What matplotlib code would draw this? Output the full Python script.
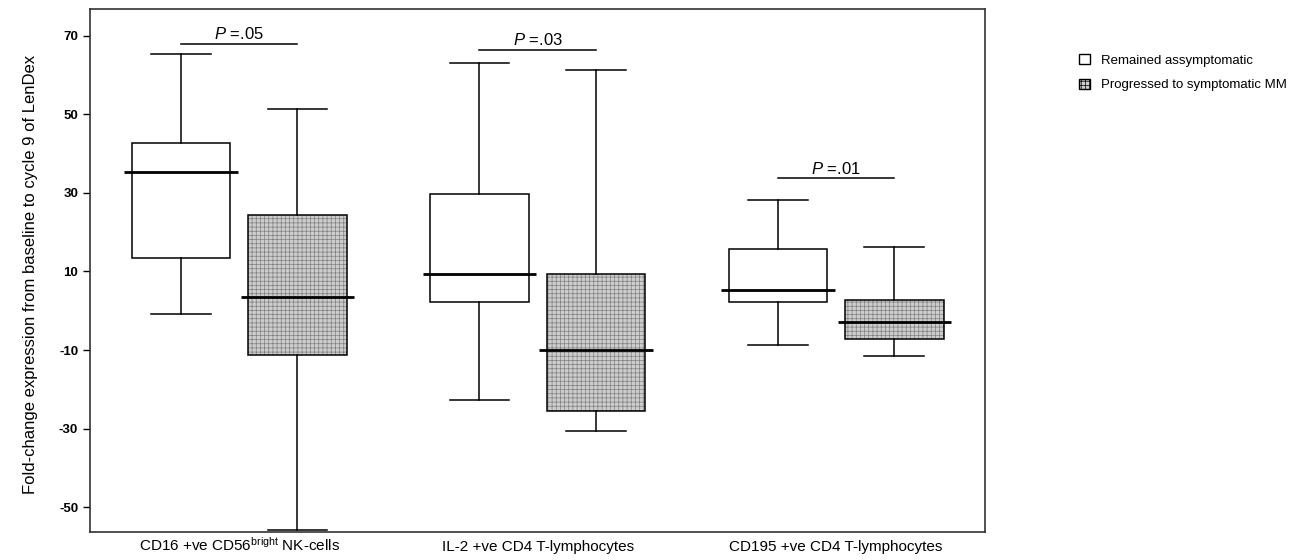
import matplotlib
matplotlib.use("Agg")
import matplotlib.pyplot as plt
from matplotlib.patches import Patch, PathPatch

plt.rcParams['font.family'] = ['Liberation Sans', 'DejaVu Sans']
plt.rcParams['mathtext.fontset'] = 'custom'
plt.rcParams['mathtext.rm'] = 'Liberation Sans'
plt.rcParams['mathtext.it'] = 'Liberation Sans:italic'
plt.rcParams['hatch.linewidth'] = 0.5

# Data
categories = ['CD16 +ve CD56$^{\\mathrm{bright}}$ NK-cells',
              'IL-2 +ve CD4 T-lymphocytes',
              'CD195 +ve CD4 T-lymphocytes']
groups = ['Remained assymptomatic', 'Progressed to symptomatic MM']

# remained
rem_lo = [-0.7, -22.8, -8.8]
rem_q1 = [13.3, 2.3, 2.2]
rem_med = [35.2, 9.3, 5.2]
rem_q3 = [42.7, 29.6, 15.6]
rem_hi = [65.3, 63.1, 28.3]

# progressed
pro_lo = [-55.7, -30.6, -11.6]
pro_q1 = [-11.2, -25.6, -7.3]
pro_med = [3.6, -10.0, -2.9]
pro_q3 = [24.3, 9.3, 2.7]
pro_hi = [51.3, 61.2, 16.2]

p_labels = ['.05', '.03', '.01']
p_heights = [68.0, 66.4, 33.7]

yticks = [70, 50, 30, 10, -10, -30, -50]


def make_stats(lo, q1, med, q3, hi):
    return [dict(whislo=a, q1=b, med=c, q3=d, whishi=e, fliers=[])
            for a, b, c, d, e in zip(lo, q1, med, q3, hi)]


fig = plt.figure(figsize=(12.91, 5.6), dpi=100)
ax = fig.add_axes([0.0697, 0.05, 0.6935, 0.934])

off = 0.195
pos = list(range(len(categories)))
rem_pos = [p - off for p in pos]
pro_pos = [p + off for p in pos]

common = dict(widths=0.33, patch_artist=True, showfliers=False,
              whiskerprops=dict(color='black', lw=1.1),
              capprops=dict(color='black', lw=1.1),
              medianprops=dict(color='black', lw=2.0),
              manage_ticks=False)

b1 = ax.bxp(make_stats(rem_lo, rem_q1, rem_med, rem_q3, rem_hi), positions=rem_pos,
            boxprops=dict(facecolor='white', edgecolor='black', lw=1.1), **common)
b2 = ax.bxp(make_stats(pro_lo, pro_q1, pro_med, pro_q3, pro_hi), positions=pro_pos,
            boxprops=dict(facecolor='#cdcdcd', edgecolor='#808080', lw=0), **common)
# gray hatch inside, black outline on top
for b in b2['boxes']:
    b.set_hatch('++++')
    ax.add_patch(PathPatch(b.get_path(), fill=False, edgecolor='black', lw=1.1, zorder=2.5))

# widen medians and shorten caps like the original
for res, ps in ((b1, rem_pos), (b2, pro_pos)):
    for m, p in zip(res['medians'], ps):
        m.set_xdata([p - 0.19, p + 0.19])
        m.set_zorder(3)
    for i, c in enumerate(res['caps']):
        p = ps[i // 2]
        c.set_xdata([p - 0.1, p + 0.1])

# significance bars
for i, (lab, h) in enumerate(zip(p_labels, p_heights)):
    ax.plot([rem_pos[i], pro_pos[i]], [h, h], color='black', lw=1.1)
    ax.text(pos[i], h + 0.4, '$P$ =' + lab, ha='center', va='bottom', fontsize=12)

ax.set_xlim(-0.5, 2.5)
ax.set_ylim(-56.3, 76.8)
ax.set_xticks(pos)
ax.set_xticklabels(categories, fontsize=11)
for lbl in ax.get_xticklabels():
    lbl.set_verticalalignment('baseline')
ax.tick_params(axis='x', length=0, pad=13.5)
ax.set_yticks(yticks)
ax.set_yticklabels([str(t) for t in yticks], fontsize=9.5, fontweight='bold')
ax.tick_params(axis='y', length=5, width=1, direction='out')
for s in ax.spines.values():
    s.set_linewidth(1.2)
    s.set_color('#333333')

fig.text(0.024, 0.51, 'Fold-change expression from baseline to cycle 9 of LenDex',
         rotation=90, ha='center', va='center', fontsize=12)

handles = [Patch(facecolor='white', edgecolor='black', lw=1.0, label=groups[0]),
           Patch(facecolor='#cdcdcd', edgecolor='black', lw=1.0, hatch='++++', label=groups[1])]
fig.legend(handles=handles, loc='upper left', bbox_to_anchor=(0.832, 0.913),
           frameon=False, fontsize=9.5, handlelength=0.8, handleheight=0.8,
           handletextpad=0.8, labelspacing=0.9, borderaxespad=0)

fig.savefig('out.png', dpi=100)
